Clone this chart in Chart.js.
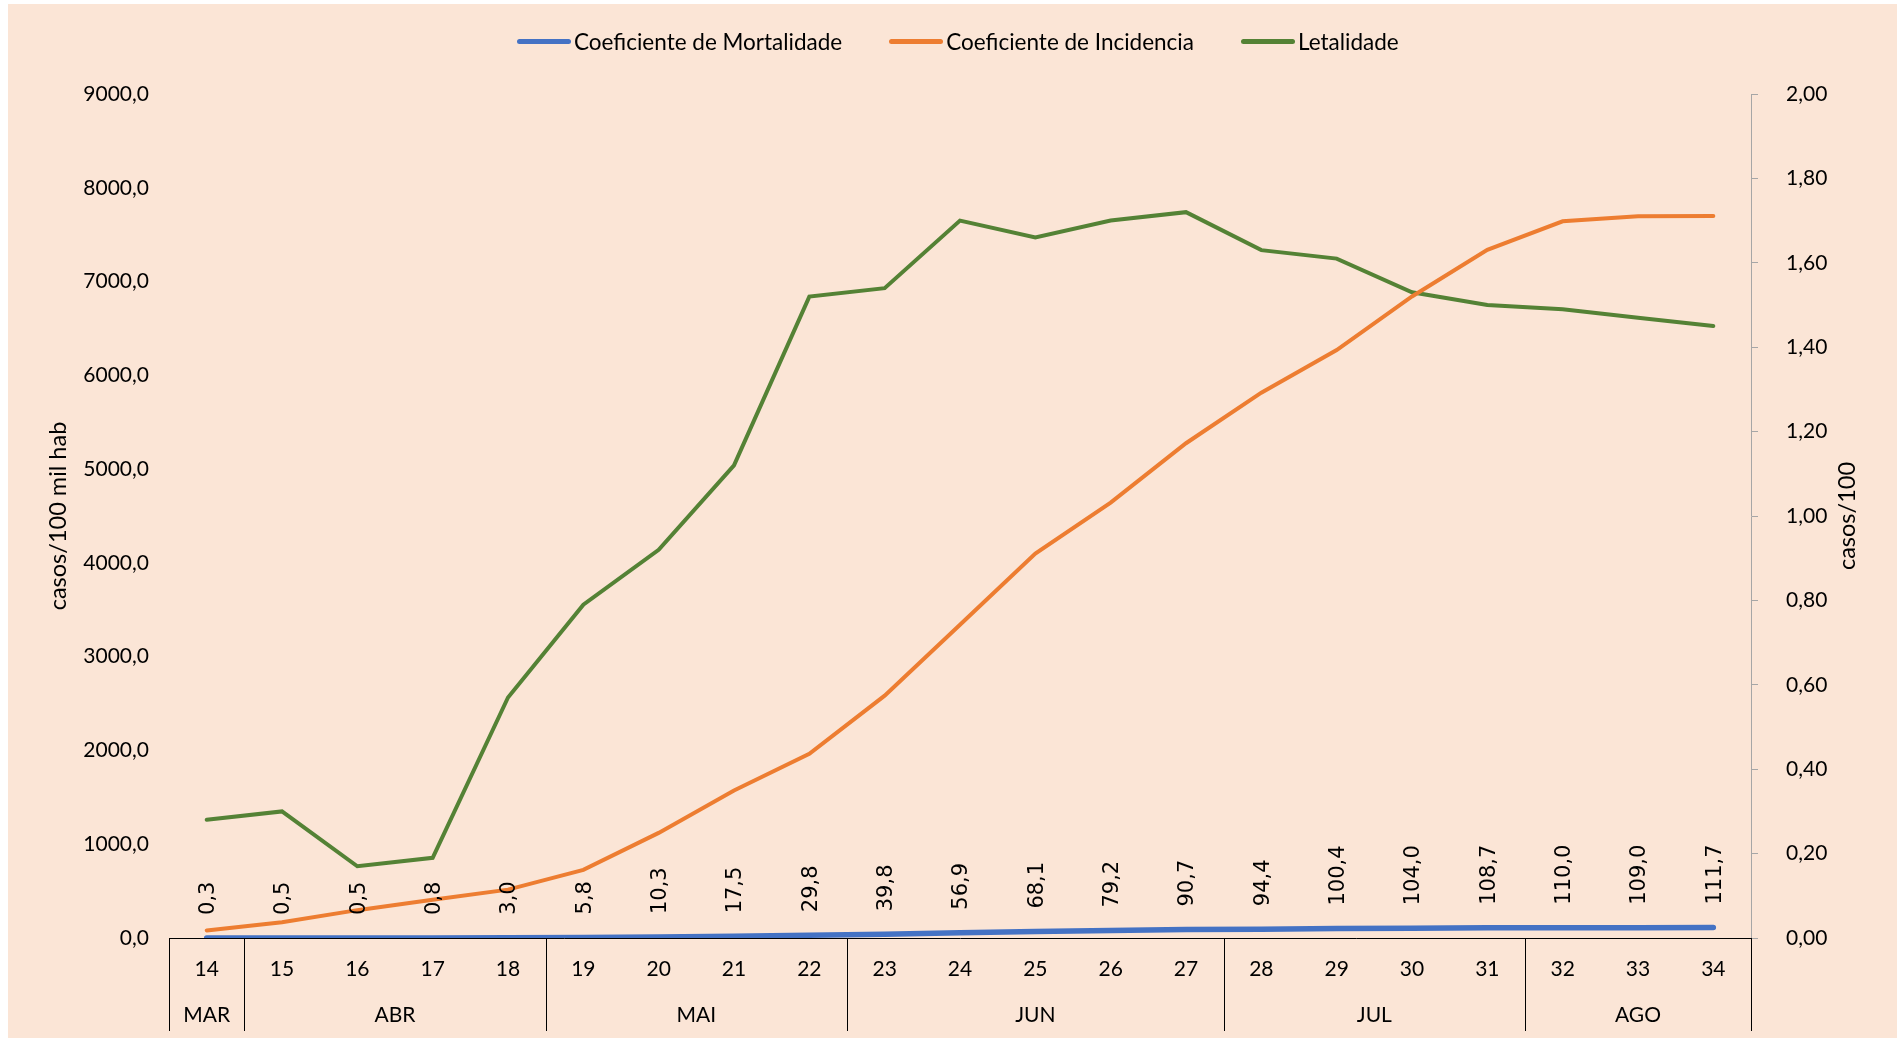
<!DOCTYPE html>
<html>
<head>
<meta charset="utf-8">
<title>Coeficientes</title>
<script src="https://cdn.jsdelivr.net/npm/chart.js@4.4.1/dist/chart.umd.min.js"></script>
<style>
    body { margin: 0; background: #fff; }
    #wrap { position: relative; width: 1897px; height: 1038px; }
    #legend {
        position: absolute; left: 517px; top: 28px;
        display: flex; align-items: center; gap: 47px;
        font-family: Lato, sans-serif; font-size: 22.5px; color: #000;
    }
    .item { display: flex; align-items: center; }
    .swatch { width: 54px; height: 5px; border-radius: 3px; margin-right: 3px; }
</style>
</head>
<body>
<div id="wrap">
    <canvas id="chart" width="1897" height="1038"></canvas>
    <div id="legend"></div>
</div>
<script>
const weeks       = ['14', '15', '16', '17', '18', '19', '20', '21', '22', '23', '24', '25', '26', '27', '28', '29', '30', '31', '32', '33', '34']
const months      = ['MAR', 'ABR', 'MAI', 'JUN', 'JUL', 'AGO']
const monthWeeks  = [1, 4, 4, 5, 4, 3]
const mortalidade = [0.3, 0.5, 0.5, 0.8, 3.0, 5.8, 10.3, 17.5, 29.8, 39.8, 56.9, 68.1, 79.2, 90.7, 94.4, 100.4, 104.0, 108.7, 110.0, 109.0, 111.7]
const incidencia  = [81, 168, 297, 407, 516, 726, 1121, 1573, 1964, 2584, 3340, 4100, 4643, 5276, 5815, 6269, 6841, 7339, 7642, 7696, 7700]
const letalidade  = [0.28, 0.30, 0.17, 0.19, 0.57, 0.79, 0.92, 1.12, 1.52, 1.54, 1.70, 1.66, 1.70, 1.72, 1.63, 1.61, 1.53, 1.50, 1.49, 1.47, 1.45]

const FONT   = 'Lato, sans-serif'
const PEACH  = '#fbe5d6'

const comma = (v, d) => v.toFixed(d).replace('.', ',')

const background = {
    id: 'background',
    beforeDraw(chart) {
        const ctx = chart.ctx
        ctx.save()
        ctx.fillStyle = '#fff'
        ctx.fillRect(0, 0, chart.width, chart.height)
        ctx.fillStyle = PEACH
        ctx.fillRect(8, 4, chart.width - 8, chart.height - 4)
        ctx.restore()
    }
}

// value labels above the mortality line
const pointLabels = {
    id: 'pointLabels',
    afterDatasetsDraw(chart) {
        const ctx  = chart.ctx
        const meta = chart.getDatasetMeta(0)
        ctx.save()
        ctx.font         = '21px "DejaVu Sans"'
        ctx.fillStyle    = '#000'
        ctx.textAlign    = 'left'
        ctx.textBaseline = 'middle'
        meta.data.forEach((pt, i) => {
            ctx.save()
            ctx.translate(pt.x + 2, pt.y - 23)
            ctx.rotate(-Math.PI / 2)
            ctx.fillText(comma(mortalidade[i], 1), 0, 0)
            ctx.restore()
        })
        ctx.restore()
    }
}

// month row, separators and right axis title
const monthAxis = {
    id: 'monthAxis',
    afterDraw(chart) {
        const ctx    = chart.ctx
        const x      = chart.scales.x
        const area   = chart.chartArea
        const bottom = 1031
        const half   = (x.getPixelForValue(1) - x.getPixelForValue(0)) / 2

        ctx.save()
        ctx.strokeStyle = '#000'
        ctx.lineWidth   = 1
        ctx.fillStyle   = '#000'
        ctx.font         = '21px ' + FONT
        ctx.textAlign    = 'center'
        ctx.textBaseline = 'middle'

        let start = 0
        const edges = [x.getPixelForValue(0) - half]
        monthWeeks.forEach((n, m) => {
            const left  = x.getPixelForValue(start) - half
            const right = x.getPixelForValue(start + n - 1) + half
            edges.push(right)
            ctx.fillText(months[m], (left + right) / 2, 1015)
            start += n
        })
        edges.forEach(px => {
            const e = Math.round(px) + 0.5
            ctx.beginPath()
            ctx.moveTo(e, area.bottom)
            ctx.lineTo(e, bottom)
            ctx.stroke()
        })

        ctx.font = '23.5px ' + FONT
        ctx.translate(1847, (area.top + area.bottom) / 2)
        ctx.rotate(-Math.PI / 2)
        ctx.fillText('casos/100', 0, 0)
        ctx.restore()
    }
}

const datasets = [
    {label: 'Coeficiente de Mortalidade', data: mortalidade, yAxisID: 'y', borderColor: '#4472c4', borderWidth: 5.5},
    {label: 'Coeficiente de Incidencia', data: incidencia, yAxisID: 'y', borderColor: '#ed7d31', borderWidth: 4},
    {label: 'Letalidade', data: letalidade, yAxisID: 'y1', borderColor: '#548235', borderWidth: 4}
]
datasets.forEach(ds => {
    ds.pointRadius     = 0
    ds.tension         = 0
    ds.fill            = false
    ds.borderCapStyle  = 'round'
    ds.borderJoinStyle = 'miter'
})

new Chart(document.getElementById('chart'), {
    type   : 'line',
    data   : {labels: weeks, datasets: datasets},
    plugins: [background, pointLabels, monthAxis],
    options: {
        responsive      : false,
        animation       : false,
        devicePixelRatio: 1,
        layout          : {padding: {left: 8, top: 94, right: 0, bottom: 0}},
        plugins         : {legend: {display: false}, tooltip: {enabled: false}},
        scales          : {
            x : {
                offset : true,
                grid   : {display: false, drawTicks: false},
                border : {display: true, color: '#000', width: 1},
                ticks  : {color: '#000', font: {family: FONT, size: 21}, padding: 19, autoSkip: false, maxRotation: 0},
                afterFit(scale) { scale.height = 100 }
            },
            y : {
                position: 'left',
                min     : 0,
                max     : 9000,
                grid    : {display: false},
                border  : {display: false},
                ticks   : {stepSize: 1000, color: '#000', padding: 12, font: {family: FONT, size: 21}, callback: v => comma(v, 1)},
                title   : {display: true, text: 'casos/100 mil hab', color: '#000', font: {family: FONT, size: 23.5}, padding: {top: 36, bottom: 0}},
                afterFit(scale) { scale.width = 161 }
            },
            y1: {
                position: 'right',
                min     : 0,
                max     : 2,
                grid    : {display: true, drawOnChartArea: false, drawTicks: true, tickLength: 7, color: '#a6a6a6'},
                border  : {display: true, color: '#a6a6a6', width: 1},
                ticks   : {stepSize: 0.2, color: '#000', padding: 28, font: {family: FONT, size: 21}, callback: v => comma(v, 2)},
                afterFit(scale) { scale.width = 146 }
            }
        }
    }
})

const legend = document.getElementById('legend')
datasets.forEach(ds => {
    const item   = document.createElement('div')
    item.className = 'item'
    const swatch = document.createElement('span')
    swatch.className = 'swatch'
    swatch.style.background = ds.borderColor
    const text = document.createElement('span')
    text.textContent = ds.label
    item.appendChild(swatch)
    item.appendChild(text)
    legend.appendChild(item)
})
</script>
</body>
</html>
